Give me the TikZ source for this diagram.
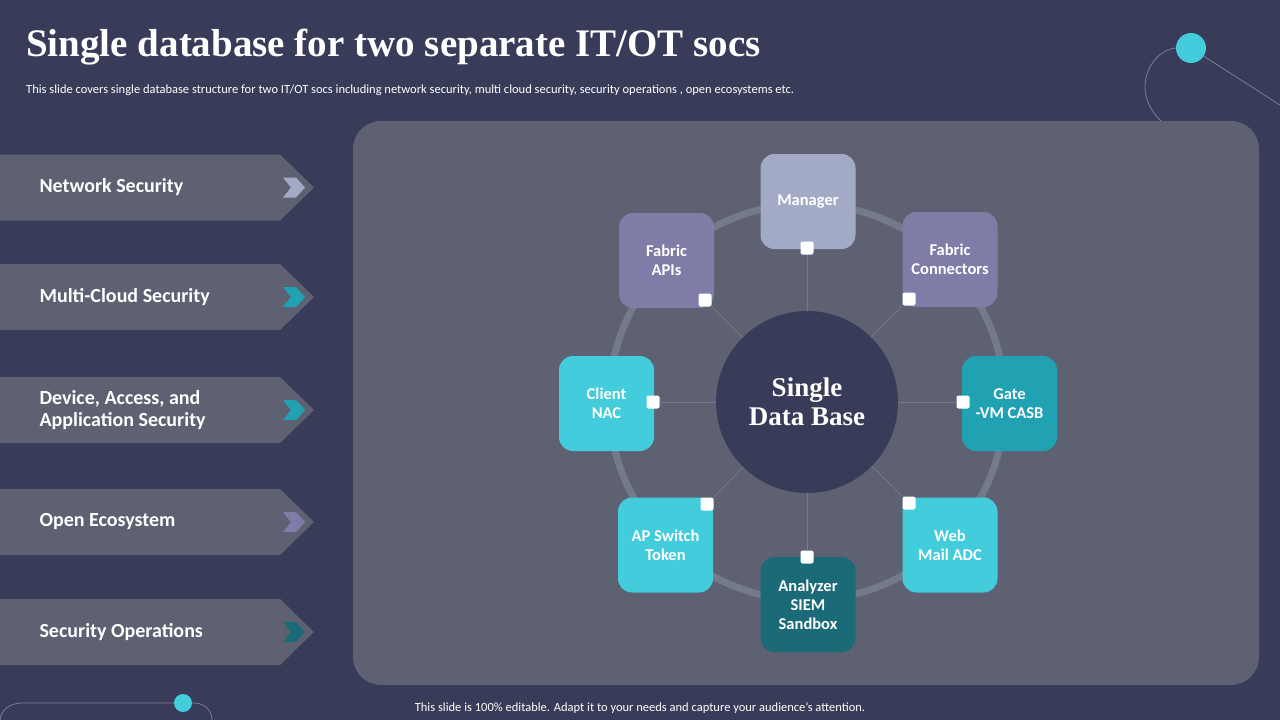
\documentclass[tikz,border=0pt]{standalone}
\usepackage{fontspec}
\setmainfont{Carlito}
\newfontfamily\titlefont{Liberation Serif}
\usetikzlibrary{positioning}

\definecolor{bgblue}{HTML}{383C58}
\definecolor{panelgrey}{HTML}{5D6172}
\definecolor{ringgrey}{HTML}{757A8A}
\definecolor{decoline}{HTML}{797D95}
\definecolor{paleblue}{HTML}{A3AAC6}
\definecolor{purple}{HTML}{7F7DA8}
\definecolor{cyan}{HTML}{42CCDC}
\definecolor{teal}{HTML}{20A2B3}
\definecolor{deepteal}{HTML}{1A6B77}

\tikzset{
	block/.style={rounded corners=14pt, minimum width=95pt, minimum height=95pt, inner sep=0pt, align=center, text=white, font=\fontsize{16.5}{19}\selectfont\bfseries},
	handle/.style={fill=white, rounded corners=2pt, minimum size=13pt, inner sep=0pt},
	spoke/.style={draw=ringgrey, line width=0.8pt},
	sidelabel/.style={anchor=west, align=left, text=white, font=\fontsize{20}{22}\selectfont\bfseries},
	deco/.style={draw=decoline, line width=0.8pt},
	dot/.style={circle, fill=cyan, inner sep=0pt}
}

\begin{document}
\begin{tikzpicture}[x=1pt,y=-1pt]
	\useasboundingbox[fill=bgblue] (0,0) rectangle (1280,720);

	% corner ornaments
	\node[dot, minimum size=30pt] (topdot) at (1191,48) {};
	\node[dot, minimum size=18pt] (lowdot) at (183,703) {};
	\coordinate (topend) at (1280,105);
	\coordinate (arcend) at (1162,122);
	\coordinate (lowleft) at (0,720);
	\coordinate (lowright) at (212,720);
	\draw[deco] (topdot) -- (topend);
	\draw[deco] (topdot.west) .. controls (1158,50) and (1145,68) .. (1145,87) .. controls (1145,100) and (1152,113) .. (arcend);
	\draw[deco] (lowleft) .. controls (1,710) and (10,703) .. (22,703) -- (lowdot);
	\draw[deco] (lowdot) -- (194,703) .. controls (204,703) and (212,710) .. (lowright);

	% title
	\node[anchor=west, inner sep=0pt, text=white, font=\titlefont\fontsize{39}{42}\selectfont\bfseries] (title) at (26,47) {Single database for two separate IT/OT socs};
	\node[anchor=west, inner sep=0pt, text=white, font=\fontsize{12.5}{14}\selectfont] (subtitle) at (26,90) {This slide covers single database structure for two IT/OT socs including network security, multi cloud security, security operations , open ecosystems etc.};
	\node[inner sep=0pt, text=white, font=\fontsize{12.5}{14}\selectfont] (footer) at (640,708) {This slide is 100\% editable. Adapt it to your needs and capture your audience's attention.};

	% left strips
	\foreach \y/\tint in {187.5/paleblue, 297/teal, 410/teal, 522/purple, 632/deepteal} {
		\fill[panelgrey] (0,\y-33) -- (280,\y-33) -- (314,\y) -- (280,\y+33) -- (0,\y+33) -- cycle;
		\fill[\tint] (283,\y-10) -- (296,\y-10) -- (305,\y) -- (296,\y+10) -- (283,\y+10) -- (291,\y) -- cycle;
	}
	\node[sidelabel] (network) at (36,187.5) {Network Security};
	\node[sidelabel] (cloud) at (36,297) {Multi-Cloud Security};
	\node[sidelabel] (device) at (36,410) {Device, Access, and\\Application Security};
	\node[sidelabel] (ecosystem) at (36,522) {Open Ecosystem};
	\node[sidelabel] (operations) at (36,632) {Security Operations};

	% main panel
	\fill[panelgrey, rounded corners=28pt] (353,121) rectangle (1259,685);
	\node[circle, draw=ringgrey, line width=7pt, minimum size=396pt, inner sep=0pt] (ring) at (807,402) {};

	% blocks round the ring
	\node[block, fill=paleblue] (manager) at (808,201.5) {Manager};
	\node[block, fill=purple] (apis) at (666.5,260.5) {Fabric\\APIs};
	\node[block, fill=purple] (connectors) at (950,259.5) {Fabric\\Connectors};
	\node[block, fill=cyan] (client) at (606.5,403.5) {Client\\NAC};
	\node[block, fill=teal] (gate) at (1009.5,403.5) {Gate\\-VM CASB};
	\node[block, fill=cyan] (switch) at (665.5,545) {AP Switch\\Token};
	\node[block, fill=cyan] (web) at (950,545) {Web\\Mail ADC};
	\node[block, fill=deepteal] (analyzer) at (808,604.5) {Analyzer\\SIEM\\Sandbox};

	\node[circle, fill=bgblue, minimum size=182pt, inner sep=0pt, align=center, text=white, font=\titlefont\fontsize{27}{29}\selectfont\bfseries] (hub) at (807,402) {Single\\Data Base};

	\node[handle] (hmanager) at (807,248) {};
	\node[handle] (hapis) at (705,300) {};
	\node[handle] (hconnectors) at (909,299) {};
	\node[handle] (hclient) at (653,402) {};
	\node[handle] (hgate) at (963,402) {};
	\node[handle] (hswitch) at (707,504) {};
	\node[handle] (hweb) at (909,503) {};
	\node[handle] (hanalyzer) at (807,557) {};

	\draw[spoke] (hub) -- (hmanager);
	\draw[spoke] (hub) -- (hapis);
	\draw[spoke] (hub) -- (hconnectors);
	\draw[spoke] (hub) -- (hclient);
	\draw[spoke] (hub) -- (hgate);
	\draw[spoke] (hub) -- (hswitch);
	\draw[spoke] (hub) -- (hweb);
	\draw[spoke] (hub) -- (hanalyzer);
\end{tikzpicture}
\end{document}
